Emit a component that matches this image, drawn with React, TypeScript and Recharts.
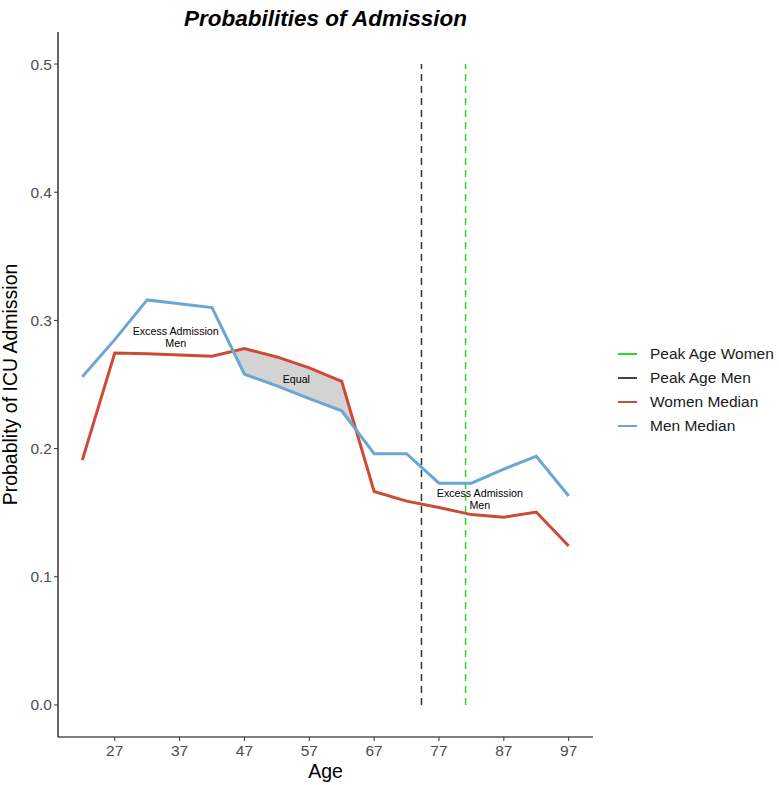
import {
  ComposedChart,
  Line,
  Area,
  XAxis,
  YAxis,
  ReferenceLine,
  ReferenceDot,
  Label,
} from 'recharts';

// values
const ages = [22, 27, 32, 37, 42, 47, 52, 57, 62, 67, 72, 77, 82, 87, 92, 97];
const menMedian = [
  0.256, 0.285, 0.316, 0.313, 0.31, 0.258, 0.249, 0.239, 0.2295, 0.196, 0.196, 0.173, 0.173,
  0.184, 0.194, 0.163,
];
const womenMedian = [
  0.191, 0.2745, 0.274, 0.273, 0.272, 0.278, 0.2715, 0.263, 0.2525, 0.1665, 0.159, 0.154,
  0.1485, 0.1465, 0.1505, 0.124,
];

const peakAgeMen = 74.3;
const peakAgeWomen = 81.1;

const xTicks = [27, 37, 47, 57, 67, 77, 87, 97];
const yTicks = [0, 0.1, 0.2, 0.3, 0.4, 0.5];

const annotations = [
  { age: 36.4, prob: 0.2872, lines: ['Excess Admission', 'Men'] },
  { age: 55, prob: 0.254, lines: ['Equal'] },
  { age: 83.3, prob: 0.1607, lines: ['Excess Admission', 'Men'] },
];

const legendItems = [
  { label: 'Peak Age Women', color: '#22dd22' },
  { label: 'Peak Age Men', color: '#444444' },
  { label: 'Women Median', color: '#cd4b35' },
  { label: 'Men Median', color: '#6ba7d3' },
];

const FONT = '"Liberation Sans", Arial, sans-serif';

const chartData = ages.map((age, i) => ({ age, men: menMedian[i], women: womenMedian[i] }));

// grey ribbon where the women's curve lies above the men's, closed at the crossings
function buildBand() {
  const rows: { age: number; band: [number, number] }[] = [];
  for (let i = 0; i < ages.length; i++) {
    const d = womenMedian[i] - menMedian[i];
    if (d >= 0) rows.push({ age: ages[i], band: [menMedian[i], womenMedian[i]] });
    if (i < ages.length - 1) {
      const dNext = womenMedian[i + 1] - menMedian[i + 1];
      if ((d < 0 && dNext > 0) || (d > 0 && dNext < 0)) {
        const t = d / (d - dNext);
        const age = ages[i] + t * (ages[i + 1] - ages[i]);
        const v = menMedian[i] + t * (menMedian[i + 1] - menMedian[i]);
        rows.push({ age, band: [v, v] });
      }
    }
  }
  return rows;
}

const bandData = buildBand();

export default function App() {
  return (
    <div style={{ position: 'relative', width: 779, height: 785, fontFamily: FONT, background: '#fff' }}>
      <style>{'body{margin:0}'}</style>
      <div
        style={{
          position: 'absolute',
          left: 58,
          top: 4,
          width: 535,
          textAlign: 'center',
          fontSize: 22.5,
          lineHeight: '30px',
          fontWeight: 'bold',
          fontStyle: 'italic',
          color: '#000',
          zIndex: 1,
        }}
      >
        Probabilities of Admission
      </div>
      <div
        style={{
          position: 'absolute',
          left: 612,
          top: 342,
          fontSize: 15.5,
          color: '#1a1a1a',
          zIndex: 1,
        }}
      >
        {legendItems.map((it) => (
          <div key={it.label} style={{ display: 'flex', alignItems: 'center', height: 24 }}>
            <div style={{ width: 19, height: 2, background: it.color, marginLeft: 6, marginRight: 13 }} />
            <span>{it.label}</span>
          </div>
        ))}
      </div>
      <ComposedChart
        width={779}
        height={785}
        data={chartData}
        margin={{ top: 32, right: 186, bottom: 0, left: 0 }}
        style={{ fontFamily: FONT }}
      >
        <XAxis
          dataKey="age"
          type="number"
          domain={[18.25, 100.75]}
          ticks={xTicks}
          allowDataOverflow
          height={48}
          tickSize={4}
          tickMargin={4}
          tick={{ fill: '#4d4d4d', fontSize: 15.5 }}
          axisLine={{ stroke: '#000', strokeWidth: 1.2 }}
          tickLine={{ stroke: '#333' }}
        >
          <Label value="Age" position="insideBottom" offset={7} fill="#000" fontSize={19.5} />
        </XAxis>
        <YAxis
          type="number"
          domain={[-0.025, 0.525]}
          ticks={yTicks}
          allowDataOverflow
          width={58}
          tickSize={4}
          tickMargin={2}
          tickFormatter={(v: number) => v.toFixed(1)}
          tick={{ fill: '#4d4d4d', fontSize: 15.5 }}
          axisLine={{ stroke: '#000', strokeWidth: 1.2 }}
          tickLine={{ stroke: '#333' }}
        >
          <Label
            content={(props: any) => {
              const vb = props.viewBox || { y: 32, height: 705 };
              const cy = vb.y + vb.height / 2;
              return (
                <text
                  transform={`translate(17, ${cy}) rotate(-90)`}
                  textAnchor="middle"
                  fill="#000"
                  fontSize={19.5}
                >
                  Probablity of ICU Admission
                </text>
              );
            }}
          />
        </YAxis>
        <Area
          data={bandData}
          dataKey="band"
          type="linear"
          stroke="none"
          fill="#d3d3d3"
          fillOpacity={1}
          isAnimationActive={false}
        />
        <ReferenceLine
          segment={[
            { x: peakAgeMen, y: 0 },
            { x: peakAgeMen, y: 0.5 },
          ]}
          stroke="#333"
          strokeWidth={1.5}
          strokeDasharray="7 5"
        />
        <ReferenceLine
          segment={[
            { x: peakAgeWomen, y: 0 },
            { x: peakAgeWomen, y: 0.5 },
          ]}
          stroke="#22dd22"
          strokeWidth={1.5}
          strokeDasharray="7 5"
        />
        <Line
          dataKey="women"
          type="linear"
          stroke="#cd4b35"
          strokeWidth={3}
          dot={false}
          activeDot={false}
          isAnimationActive={false}
        />
        <Line
          dataKey="men"
          type="linear"
          stroke="#6ba7d3"
          strokeWidth={3}
          dot={false}
          activeDot={false}
          isAnimationActive={false}
        />
        {annotations.map((a) => (
          <ReferenceDot
            key={`${a.age}-${a.prob}`}
            x={a.age}
            y={a.prob}
            r={1}
            shape={(p: any) => (
              <text
                x={p.cx}
                y={p.cy}
                textAnchor="middle"
                fontSize={10.7}
                fill="#000"
                fontFamily={FONT}
              >
                {a.lines.map((ln, k) => (
                  <tspan
                    key={k}
                    x={p.cx}
                    y={p.cy + (k - (a.lines.length - 1) / 2) * 11.4}
                    dominantBaseline="central"
                  >
                    {ln}
                  </tspan>
                ))}
              </text>
            )}
          />
        ))}
      </ComposedChart>
    </div>
  );
}
